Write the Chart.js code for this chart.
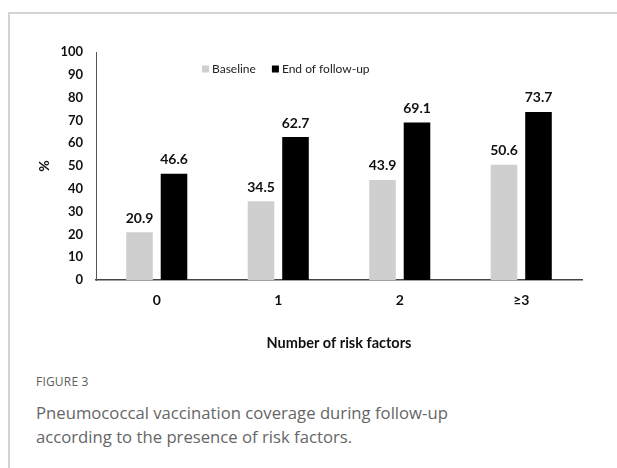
<!DOCTYPE html>
<html>
<head>
<meta charset="utf-8">
<script src="https://cdn.jsdelivr.net/npm/chart.js@4.4.1/dist/chart.umd.min.js"></script>
<style>
  html, body { margin: 0; padding: 0; background: #fff; width: 617px; height: 468px; overflow: hidden; }
  .frame { position: absolute; left: 8px; top: 12px; width: 700px; height: 500px;
           border-top: 2px solid #d4d4d4; border-left: 2px solid #d4d4d4; }
  #chart { position: absolute; left: 0; top: 0; }
  .fig { position: absolute; left: 36px; top: 373px; font: 12px 'Open Sans', sans-serif; color: #5e5e5e; letter-spacing: 0.2px; }
  .cap { position: absolute; left: 36px; top: 401px; font: 16.7px/24px 'Open Sans', sans-serif; color: #666; width: 570px; }
</style>
</head>
<body>
<div class="frame"></div>
<canvas id="chart" width="617" height="360"></canvas>
<div class="fig">FIGURE 3</div>
<div class="cap">Pneumococcal vaccination coverage during follow-up<br>according to the presence of risk factors.</div>
<script>
// Vaccination coverage (%) by number of risk factors
const categories = ['0', '1', '2', '≥3'];
const seriesNames = ['Baseline', 'End of follow-up'];
const baseline = [20.9, 34.5, 43.9, 50.6];
const endOfFollowUp = [46.6, 62.7, 69.1, 73.7];
const yTicks = [0, 10, 20, 30, 40, 50, 60, 70, 80, 90, 100];

const colors = ['#cfcfcf', '#000000'];
const FONT = 'Lato, "Open Sans", sans-serif';

// value labels above each bar
const valueLabels = {
  id: 'valueLabels',
  afterDatasetsDraw(chart) {
    const ctx = chart.ctx;
    ctx.save();
    ctx.font = 'bold 14px ' + FONT;
    ctx.fillStyle = '#111';
    ctx.textAlign = 'center';
    ctx.textBaseline = 'middle';
    chart.data.datasets.forEach((ds, i) => {
      chart.getDatasetMeta(i).data.forEach((bar, j) => {
        ctx.fillText(ds.data[j].toFixed(1), bar.x, bar.y - 14);
      });
    });
    ctx.restore();
  }
};

// compact legend inside the plot area
const insideLegend = {
  id: 'insideLegend',
  afterDraw(chart) {
    const ctx = chart.ctx;
    const area = chart.chartArea;
    let x = area.left + 106;
    const y = area.top + 17;
    ctx.save();
    ctx.font = '12px ' + FONT;
    ctx.textBaseline = 'middle';
    ctx.textAlign = 'left';
    chart.data.datasets.forEach((ds, i) => {
      ctx.fillStyle = ds.backgroundColor;
      ctx.fillRect(x, y - 3.5, 7, 7);
      ctx.fillStyle = '#222';
      ctx.fillText(ds.label, x + 10, y);
      x += 10 + ctx.measureText(ds.label).width + 16;
    });
    ctx.restore();
  }
};

new Chart(document.getElementById('chart'), {
  type: 'bar',
  data: {
    labels: categories,
    datasets: [
      { label: seriesNames[0], data: baseline, backgroundColor: colors[0] },
      { label: seriesNames[1], data: endOfFollowUp, backgroundColor: colors[1] }
    ]
  },
  options: {
    responsive: false,
    animation: false,
    devicePixelRatio: 1,
    layout: { padding: { left: 36, right: 35, top: 52, bottom: 0 } },
    datasets: { bar: { categoryPercentage: 0.568, barPercentage: 0.77 } },
    plugins: { legend: { display: false }, tooltip: { enabled: false } },
    scales: {
      x: {
        grid: { display: false, drawTicks: false },
        border: { display: true, color: '#444', width: 1.5 },
        ticks: { color: '#111', font: { family: FONT, size: 14, weight: 'bold' }, padding: 12 },
        title: { display: true, text: 'Number of risk factors', color: '#111',
                 font: { family: FONT, size: 14.5, weight: 'bold' }, padding: { top: 0, bottom: 8 } },
        afterFit(scale) { scale.height = 80; }
      },
      y: {
        min: 0, max: 100,
        grid: { display: false, drawTicks: false },
        border: { display: true, color: '#555', width: 1 },
        afterBuildTicks(scale) { scale.ticks = yTicks.map(v => ({ value: v })); },
        ticks: { color: '#111', font: { family: FONT, size: 13, weight: 'bold' }, padding: 13 },
        title: { display: true, text: '%', color: '#111',
                 font: { family: FONT, size: 14, weight: 'bold' }, padding: { top: 0, bottom: 0 } },
        afterFit(scale) { scale.width = 60; }
      }
    }
  },
  plugins: [valueLabels, insideLegend]
});
</script>
</body>
</html>
